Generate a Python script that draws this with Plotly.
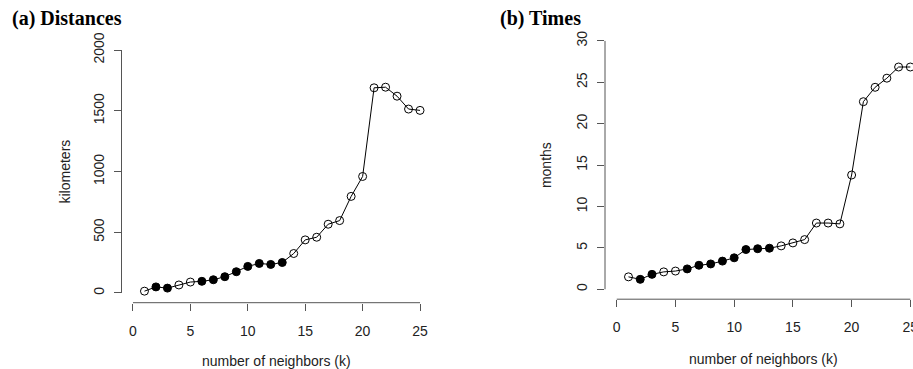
import plotly.graph_objects as go

k = list(range(1, 26))
distances_km = [15, 50, 40, 66, 90, 96, 109, 134, 175, 219, 243, 235, 251,
                325, 437, 459, 566, 596, 795, 959, 1689, 1694, 1620, 1514, 1503]
times_months = [1.5, 1.2, 1.8, 2.1, 2.2, 2.46, 2.9, 3.06, 3.4, 3.8, 4.8, 4.9, 4.96,
                5.24, 5.6, 6.0, 8.0, 8.0, 7.9, 13.8, 22.66, 24.4, 25.5, 26.85, 26.85]
filled_dist = [2, 3, 6, 7, 8, 9, 10, 11, 12, 13]
filled_time = [2, 3, 6, 7, 8, 9, 10, 11, 12, 13]

x_ticks = [0, 5, 10, 15, 20, 25]
y_ticks_dist = [0, 500, 1000, 1500, 2000]
y_ticks_time = [0, 5, 10, 15, 20, 25, 30]

W, H = 913, 369
AX = "#555555"
TXT = "#222222"
SANS = "Liberation Sans, Arial, Helvetica, sans-serif"
SERIF = "Liberation Serif, Times New Roman, serif"

fig = go.Figure()


def add_panel(xa, ya, yvals, filled):
    sym = ["circle" if kk in filled else "circle-open" for kk in k]
    fig.add_trace(go.Scatter(
        x=k, y=yvals, mode="lines+markers", xaxis=xa, yaxis=ya,
        line=dict(color="black", width=1),
        marker=dict(symbol=sym, size=8, color="black",
                    line=dict(color="black", width=1)),
        showlegend=False, hoverinfo="x+y"))


add_panel("x", "y", distances_km, filled_dist)
add_panel("x2", "y2", times_months, filled_time)

# pixel geometry of the two plot regions
L1, R1, T1, B1 = 121.5, 431.5, 40.3, 302.7
L2, R2, T2, B2 = 605.0, 913.0, 31.0, 299.2
PX_PER_K2 = 11.744  # right panel is cropped at the page edge


def xd(a, b):
    return [a / W, b / W]


def yd(t, b):
    return [(H - b) / H, (H - t) / H]


common_x = dict(showgrid=False, zeroline=False, showline=False, ticks="outside",
                ticklen=7, tickwidth=1, tickcolor=AX, tickvals=x_ticks,
                tickfont=dict(family=SANS, size=14, color=TXT),
                ticklabelstandoff=8, ticklabeloverflow="allow",
                automargin=False, fixedrange=True)
common_y = dict(showgrid=False, zeroline=False, showline=False, ticks="outside",
                ticklen=7, tickwidth=1, tickcolor=AX, tickangle=-90,
                tickfont=dict(family=SANS, size=14, color=TXT),
                ticklabelstandoff=4, automargin=False, fixedrange=True)

fig.update_layout(
    width=W, height=H,
    margin=dict(l=0, r=0, t=0, b=0, autoexpand=False),
    paper_bgcolor="white", plot_bgcolor="white",
    xaxis=dict(domain=xd(L1, R1), anchor="y", range=[-1, 26], **common_x),
    yaxis=dict(domain=yd(T1, B1), anchor="x", range=[-80, 2080],
               tickvals=y_ticks_dist, **common_y),
    xaxis2=dict(domain=xd(L2, R2), anchor="y2",
                range=[-1, -1 + (R2 - L2) / PX_PER_K2], **common_x),
    yaxis2=dict(domain=yd(T2, B2), anchor="x2", range=[-1.2, 31.2],
                tickvals=y_ticks_time, **common_y),
)

# R-style axis lines spanning first to last tick
for xr, yr, yt in (("x", "y", y_ticks_dist), ("x2", "y2", y_ticks_time)):
    fig.add_shape(type="line", xref=xr, yref=yr + " domain",
                  x0=x_ticks[0], x1=x_ticks[-1], y0=0, y1=0,
                  line=dict(color=AX, width=1))
    fig.add_shape(type="line", xref=xr + " domain", yref=yr,
                  x0=0, x1=0, y0=yt[0], y1=yt[-1],
                  line=dict(color=AX, width=1))

# axis titles
for xr, yr, ytitle, xpix, xt_pix in (("x", "y", "kilometers", 64, 361),
                                     ("x2", "y2", "months", 546, 359)):
    fig.add_annotation(text="number of neighbors (k)", xref=xr, x=12.5,
                       yref="paper", y=1 - xt_pix / H, showarrow=False,
                       xanchor="center", yanchor="middle",
                       font=dict(family=SANS, size=14, color=TXT))
    fig.add_annotation(text=ytitle, xref="paper", x=xpix / W,
                       yref=yr + " domain", y=0.5, textangle=-90,
                       showarrow=False, xanchor="center", yanchor="middle",
                       font=dict(family=SANS, size=14, color=TXT))

# panel titles
for txt, xpix in (("(a) Distances", 10), ("(b) Times", 498)):
    fig.add_annotation(text="<b>" + txt + "</b>", xref="paper", x=xpix / W,
                       yref="paper", y=1 - 18 / H, showarrow=False,
                       xanchor="left", yanchor="middle",
                       font=dict(family=SERIF, size=20, color="black"))

fig.write_html("out.html")
